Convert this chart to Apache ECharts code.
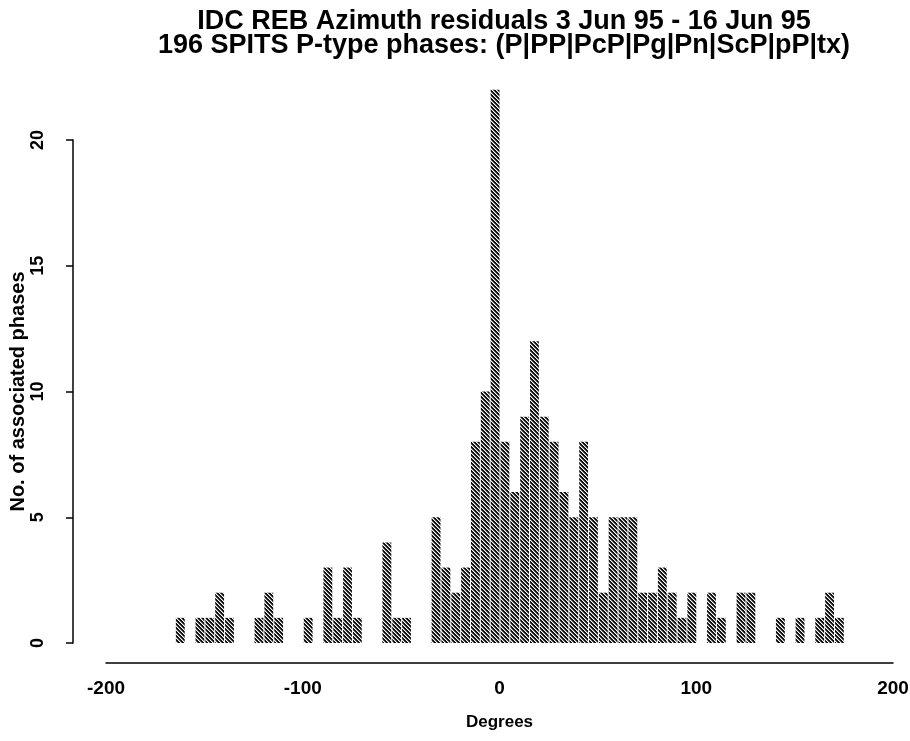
<!DOCTYPE html>
<html>
<head>
<meta charset="utf-8">
<script src="https://cdn.jsdelivr.net/npm/echarts@6/dist/echarts.min.js"></script>
<style>
  html, body { margin: 0; padding: 0; background: #fff; }
  #chart { width: 910px; height: 741px; }
</style>
</head>
<body>
<div id="chart"></div>
<script>
// Histogram bins: left edge (degrees) of each 5-degree bin, and its count
const binWidth = 5;
const binLeft = [-165, -155, -150, -145, -140, -125, -120, -115, -100,
  -90, -85, -80, -75, -60, -55, -50,
  -35, -30, -25, -20, -15, -10, -5, 0, 5, 10, 15, 20, 25, 30, 35, 40, 45,
  50, 55, 60, 65, 70, 75, 80, 85, 90, 95,
  105, 110, 120, 125, 140, 150, 160, 165, 170];
const counts = [1, 1, 1, 2, 1, 1, 2, 1, 1,
  3, 1, 3, 1, 4, 1, 1,
  5, 3, 2, 3, 8, 10, 22, 8, 6, 9, 12, 9, 8, 6, 5, 8, 5,
  2, 5, 5, 5, 2, 2, 3, 2, 1, 2,
  2, 1, 2, 2, 1, 1, 1, 2, 1];
const xTicks = [-200, -100, 0, 100, 200];
const yTicks = [0, 5, 10, 15, 20];
const titleLines = ['IDC REB Azimuth residuals 3 Jun 95 - 16 Jun 95',
  '196 SPITS P-type phases: (P|PP|PcP|Pg|Pn|ScP|pP|tx)'];

// crosshatch fill pattern
const pc = document.createElement('canvas');
pc.width = 4; pc.height = 4;
const pctx = pc.getContext('2d');
pctx.fillStyle = '#ffffff'; pctx.fillRect(0, 0, 4, 4);
pctx.fillStyle = '#111111';
for (let i = 0; i < 4; i++) { pctx.fillRect(i, i, 1, 1); pctx.fillRect((i + 1) % 4, i, 1, 1); }
pctx.fillStyle = '#777777';
for (let i = 0; i < 4; i++) { pctx.fillRect((i + 3) % 4, i, 1, 1); }

const data = binLeft.map((l, i) => [l, l + binWidth, counts[i]]);

const chart = echarts.init(document.getElementById('chart'), null, { renderer: 'canvas' });
const font = 'Liberation Sans, Arial, Helvetica, sans-serif';
chart.setOption({
  backgroundColor: '#ffffff',
  animation: false,
  title: {
    text: titleLines.join('\n'),
    left: 499, top: 5, textAlign: 'center',
    textStyle: { fontFamily: font, fontSize: 27, fontWeight: 'bold', color: '#000', lineHeight: 24 }
  },
  grid: { left: 106, right: 17, top: 140, bottom: 98, outerBoundsMode: 'none', containLabel: false },
  xAxis: {
    type: 'value', min: xTicks[0], max: xTicks[xTicks.length - 1], interval: 100,
    offset: 20,
    name: 'Degrees', nameLocation: 'middle', nameGap: 51, nameMoveOverlap: false,
    nameTextStyle: { fontFamily: font, fontSize: 17, fontWeight: 'bold', color: '#000' },
    axisLine: { show: true, onZero: false, lineStyle: { color: '#000', width: 1.5 } },
    axisTick: { show: false },
    splitLine: { show: false },
    axisLabel: { fontFamily: font, fontSize: 19, fontWeight: 'bold', color: '#000', margin: 16 }
  },
  yAxis: {
    type: 'value', min: yTicks[0], max: yTicks[yTicks.length - 1], interval: 5,
    offset: 33,
    name: 'No. of associated phases', nameLocation: 'middle', nameGap: 45, nameRotate: 90,
    nameMoveOverlap: false,
    nameTextStyle: { fontFamily: font, fontSize: 20, fontWeight: 'bold', color: '#000' },
    axisLine: { show: true, onZero: false, lineStyle: { color: '#000', width: 1.5 } },
    axisTick: { show: true, length: 7, lineStyle: { color: '#000', width: 1.5 } },
    splitLine: { show: false },
    axisLabel: { fontFamily: font, fontSize: 18, fontWeight: 'bold', color: '#000', rotate: 90, margin: 26 }
  },
  series: [{
    type: 'custom',
    clip: false,
    data: data,
    renderItem: function (params, api) {
      const p0 = api.coord([api.value(0), api.value(2)]);
      const p1 = api.coord([api.value(1), 0]);
      return {
        type: 'rect',
        shape: { x: p0[0] + 1, y: p0[1], width: p1[0] - p0[0] - 1, height: p1[1] - p0[1] },
        style: { fill: { image: pc, repeat: 'repeat' } }
      };
    }
  }]
});
</script>
</body>
</html>
